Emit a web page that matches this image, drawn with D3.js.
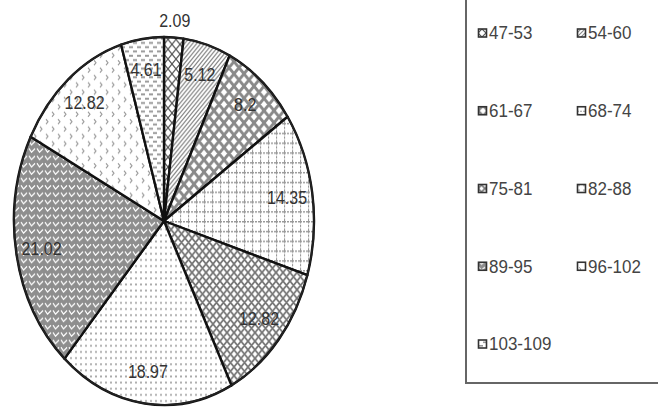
<!DOCTYPE html>
<html><head><meta charset="utf-8">
<script src="https://cdn.jsdelivr.net/npm/d3@7/dist/d3.min.js"></script>
<style>
html,body{margin:0;padding:0;background:#fff;}
svg{display:block;}
text{font-family:"Liberation Sans",Arial,sans-serif;}
</style></head>
<body>
<svg id="chart" width="658" height="411"></svg>
<script>
const categories = ["47-53","54-60","61-67","68-74","75-81","82-88","89-95","96-102","103-109"];
const values = [2.09, 5.12, 8.2, 14.35, 12.82, 18.97, 21.02, 12.82, 4.61];
const labels = ["2.09","5.12","8.2","14.35","12.82","18.97","21.02","12.82","4.61"];

const svg = d3.select("#chart");
const W = 658, H = 411;
const cx = 164, cy = 221, rx = 150, ry = 184;

// ---- patterns ----
const defs = svg.append("defs");
function pat(id, w, h, bg, draw) {
  const p = defs.append("pattern").attr("id", id).attr("patternUnits", "userSpaceOnUse")
    .attr("width", w).attr("height", h);
  p.append("rect").attr("width", w).attr("height", h).attr("fill", bg);
  draw(p);
}
pat("p0", 8, 8, "#fff", p => p.append("path").attr("d", "M0,0 L4,4 L0,8 M8,0 L4,4 L8,8")
  .attr("stroke", "#555").attr("stroke-width", 1.1).attr("fill", "none"));
pat("p1", 4, 4, "#fff", p => p.append("path").attr("d", "M-1,1 L1,-1 M0,4 L4,0 M3,5 L5,3")
  .attr("stroke", "#888").attr("stroke-width", 1.1));
pat("p2", 10, 10, "#fff", p => p.append("path").attr("d", "M0,0 L10,10 M10,0 L0,10 M-5,5 L5,-5 M5,15 L15,5 M-5,5 L5,15 M5,-5 L15,5")
  .attr("stroke", "#8a8a8a").attr("stroke-width", 2.6).attr("stroke-linecap", "round"));
pat("p3", 8, 8, "#fff", p => p.append("path").attr("d", "M0,0.5 H8 M0.5,0 V8")
  .attr("stroke", "#999").attr("stroke-width", 1.2).attr("stroke-dasharray", "2,1"));
pat("p4", 7, 7, "#fff", p => p.append("path").attr("d", "M0,0 L7,7 M7,0 L0,7 M-3.5,3.5 L3.5,-3.5 M3.5,10.5 L10.5,3.5 M-3.5,3.5 L3.5,10.5 M3.5,-3.5 L10.5,3.5")
  .attr("stroke", "#777").attr("stroke-width", 1.6));
pat("p5", 5, 5, "#fff", p => p.append("rect").attr("x", 1).attr("y", 1).attr("width", 2).attr("height", 1.5).attr("fill", "#aaa"));
pat("p6", 8, 6, "#8e8e8e", p => p.append("path").attr("d", "M1,1 L3.5,4 L7,1")
  .attr("stroke", "#fff").attr("stroke-width", 1.1).attr("fill", "none"));
pat("p7", 12, 12, "#fff", p => p.append("path").attr("d", "M2,1 L4,3 L2,5 M8,7 L10,9 L8,11")
  .attr("stroke", "#999").attr("stroke-width", 1).attr("fill", "none"));
pat("p8", 8, 7, "#fff", p => {
  p.append("rect").attr("x", 1).attr("y", 1).attr("width", 4).attr("height", 1.6).attr("fill", "#999");
  p.append("rect").attr("x", 5).attr("y", 4.5).attr("width", 4).attr("height", 1.6).attr("fill", "#999");
  p.append("rect").attr("x", -3).attr("y", 4.5).attr("width", 4).attr("height", 1.6).attr("fill", "#999");
});

const data = categories.map((c, i) => ({cat: c, value: values[i], label: labels[i], i}));

// ---- pie (circular arcs stretched into ellipse) ----
const pie = d3.pie().value(d => d.value).sort(null);
const arcs = pie(data);
const arc = d3.arc().innerRadius(0).outerRadius(rx);

const g = svg.append("g").attr("transform", `translate(${cx},${cy}) scale(1,${ry / rx})`);
g.selectAll("path.slice").data(arcs).join("path")
  .attr("class", "slice")
  .attr("d", arc)
  .attr("fill", d => `url(#p${d.data.i})`)
  .attr("stroke", "#111").attr("stroke-width", 2.4)
  .attr("stroke-linejoin", "round")
  .attr("vector-effect", "non-scaling-stroke");
g.append("circle").attr("r", rx).attr("fill", "none")
  .attr("stroke", "#222").attr("stroke-width", 1.6)
  .attr("vector-effect", "non-scaling-stroke");

// labels
const lab = svg.append("g");
arcs.forEach(d => {
  const a = (d.startAngle + d.endAngle) / 2;
  const f = d.data.value < 3 ? 1.09 : 0.83;
  lab.append("text")
    .attr("transform", `translate(${cx + f * rx * Math.sin(a)},${cy - f * ry * Math.cos(a)}) scale(1,1.12)`)
    .attr("text-anchor", "middle").attr("dominant-baseline", "central")
    .attr("font-size", 16).attr("fill", "#333")
    .text(d.data.label);
});

// ---- legend ----
const legX = 466, legBottom = 383;
svg.append("path").attr("d", `M${legX},-5 V${legBottom} H${W + 5}`)
  .attr("fill", "none").attr("stroke", "#666").attr("stroke-width", 2);

const colX = [478, 577];
const rowY = d3.scalePoint().domain(d3.range(5)).range([33, 344]);
const leg = svg.append("g").selectAll("g").data(data).join("g")
  .attr("transform", (d, i) => `translate(${colX[i % 2]},${rowY(Math.floor(i / 2))})`);
leg.append("rect").attr("x", 0.5).attr("y", -4).attr("width", 8).attr("height", 8)
  .attr("fill", d => `url(#p${d.i})`).attr("stroke", "#333").attr("stroke-width", 1.6);
leg.append("text").attr("transform", "translate(11,0) scale(1,1.12)").attr("dominant-baseline", "central")
  .attr("font-size", 17).attr("fill", "#444")
  .text(d => d.cat);
</script>
</body></html>
